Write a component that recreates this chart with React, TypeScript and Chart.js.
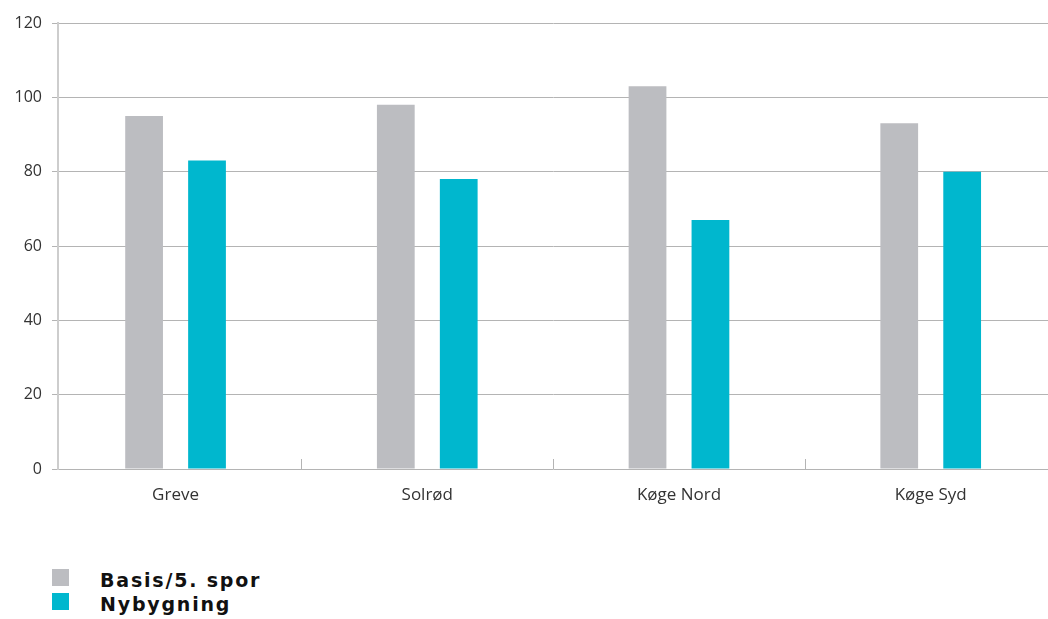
import React, { useEffect, useRef } from "react";
import { Chart, registerables } from "chart.js";

Chart.register(...registerables);

const categories = ["Greve", "Solrød", "Køge Nord", "Køge Syd"];
const basisValues = [95, 98, 103, 93];
const nybygningValues = [83, 78, 67, 80];
const seriesNames = ["Basis/5. spor", "Nybygning"];
const seriesColors = ["#bcbdc1", "#00b7ce"];
const yTicks = [0, 20, 40, 60, 80, 100, 120];
const xMin = -0.467;
const xMax = 3.466;

const boundaryTicks = {
  id: "boundaryTicks",
  afterDatasetsDraw(chart: any) {
    const x = chart.scales.x;
    const y = chart.scales.y;
    const ctx = chart.ctx;
    const base = y.getPixelForValue(0);
    ctx.save();
    ctx.strokeStyle = "#b4b4b4";
    ctx.lineWidth = 1;
    for (let i = 0; i < categories.length - 1; i++) {
      const px = Math.round(x.getPixelForValue(i + 0.5)) + 0.5;
      ctx.beginPath();
      ctx.moveTo(px, base);
      ctx.lineTo(px, base - 10);
      ctx.stroke();
    }
    ctx.restore();
  },
};

export default function App() {
  const ref = useRef<HTMLCanvasElement | null>(null);

  useEffect(() => {
    if (!ref.current) return;
    const chart = new Chart(ref.current, {
      type: "bar",
      data: {
        datasets: [
          {
            label: seriesNames[0],
            data: basisValues.map((v, i) => ({ x: i, y: v })),
            backgroundColor: seriesColors[0],
            categoryPercentage: 0.5,
            barPercentage: 0.6,
          },
          {
            label: seriesNames[1],
            data: nybygningValues.map((v, i) => ({ x: i, y: v })),
            backgroundColor: seriesColors[1],
            categoryPercentage: 0.5,
            barPercentage: 0.6,
          },
        ],
      },
      options: {
        animation: false,
        responsive: true,
        maintainAspectRatio: false,
        layout: { padding: { top: 23, left: 0, right: 0, bottom: 0 } },
        plugins: { legend: { display: false }, tooltip: { enabled: false } },
        scales: {
          x: {
            type: "linear",
            offset: false,
            min: xMin,
            max: xMax,
            grid: { display: false, drawTicks: false, offset: false },
            border: { display: false },
            afterBuildTicks: (s: any) => {
              s.ticks = categories.map((_, i) => ({ value: i }));
              s.min = xMin;
              s.max = xMax;
            },
            afterFit: (s: any) => {
              s.height = 61;
            },
            ticks: {
              autoSkip: false,
              maxRotation: 0,
              padding: 16,
              color: "#333",
              font: { family: "'Open Sans'", size: 17 },
              callback: (v: any) => {
                const i = Math.round(Number(v));
                return categories[i] !== undefined ? categories[i] : "";
              },
            },
          },
          y: {
            min: yTicks[0],
            max: yTicks[yTicks.length - 1],
            afterFit: (s: any) => {
              s.width = 58;
            },
            afterBuildTicks: (s: any) => {
              s.ticks = yTicks.map((v) => ({ value: v }));
            },
            grid: { color: "#b4b4b4", lineWidth: 1, tickLength: 6 },
            border: { color: "#cdcdcd", width: 2 },
            ticks: {
              padding: 10,
              color: "#333",
              font: { family: "'Open Sans'", size: 16 },
            },
          },
        },
      },
      plugins: [boundaryTicks],
    });
    return () => chart.destroy();
  }, []);

  return (
    <div
      style={{
        position: "absolute",
        left: 0,
        top: 0,
        width: 1048,
        height: 619,
        overflow: "hidden",
        background: "#fff",
      }}
    >
      <div style={{ position: "absolute", left: 0, top: 0, width: 1048, height: 530 }}>
        <canvas ref={ref} />
      </div>
      {seriesNames.map((name, i) => (
        <div
          key={name}
          style={{
            position: "absolute",
            left: 52,
            top: 569 + i * 24,
            height: 17,
            display: "flex",
            alignItems: "center",
          }}
        >
          <span
            style={{
              display: "inline-block",
              width: 17,
              height: 17,
              background: seriesColors[i],
            }}
          />
          <span
            style={{
              marginLeft: 31,
              fontFamily: "'DejaVu Sans', sans-serif",
              fontWeight: "bold",
              fontSize: 19,
              letterSpacing: 1.8,
              color: "#111",
              whiteSpace: "nowrap",
              lineHeight: "17px",
              position: "relative",
              top: 3,
            }}
          >
            {name}
          </span>
        </div>
      ))}
    </div>
  );
}
